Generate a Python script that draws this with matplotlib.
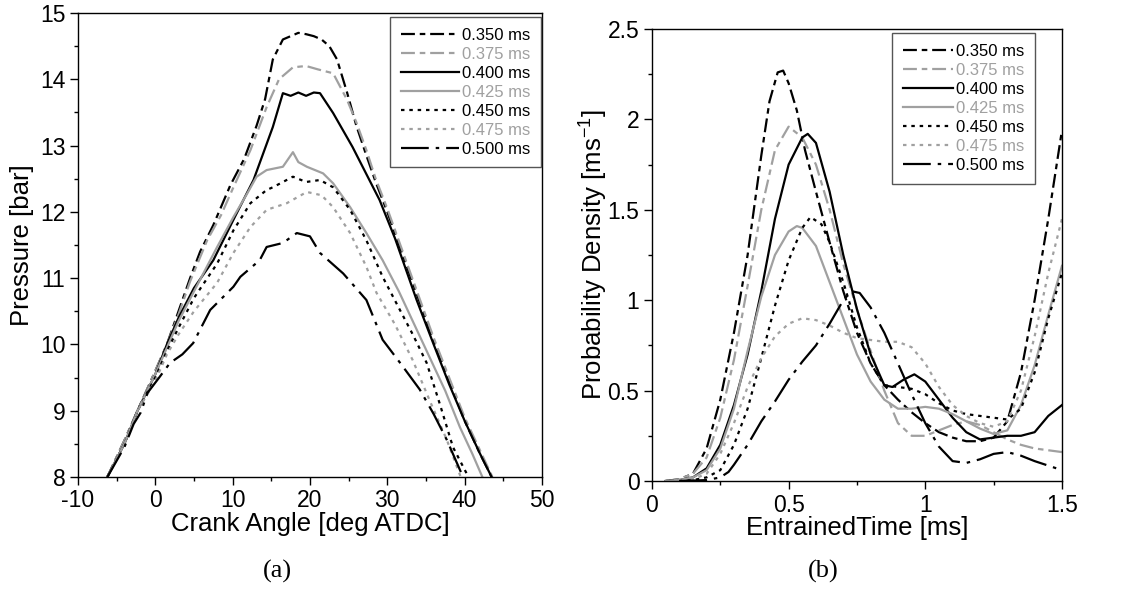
import matplotlib
matplotlib.use("Agg")
import matplotlib.pyplot as plt
from matplotlib.ticker import MultipleLocator

plt.rcParams['font.family'] = ['Liberation Sans', 'DejaVu Sans']
plt.rcParams['mathtext.default'] = 'regular'
plt.rcParams['lines.scale_dashes'] = False
plt.rcParams['axes.unicode_minus'] = False

labels = ['0.350 ms', '0.375 ms', '0.400 ms', '0.425 ms', '0.450 ms', '0.475 ms', '0.500 ms']
colors = ['black', '#a0a0a0', 'black', '#a0a0a0', 'black', '#a0a0a0', 'black']
styles = [(0, (10, 3.5, 4, 3.5)), (0, (10, 3.5, 4, 3.5)), '-', '-',
          (0, (2.5, 3.5)), (0, (2.5, 3.5)), (0, (20, 5, 2.5, 5))]

# (a) pressure vs crank angle
ca_350 = [-6.2, -4, -2.3, 0, 1.5, 3, 4.5, 5.8, 7.5, 9.7, 11.5, 13.1, 14.2, 15.2, 16.5, 17.5,
          18.5, 19.5, 20.5, 21.5, 22.5, 23.5, 24.8, 26, 27.3, 28.5, 30, 32, 34, 36, 38, 40, 42, 43.5]
p_350 = [8.0, 8.55, 9.0, 9.6, 10.0, 10.5, 11.0, 11.4, 11.8, 12.4, 12.8, 13.3, 13.7, 14.3, 14.6, 14.65,
         14.7, 14.68, 14.65, 14.6, 14.5, 14.3, 13.8, 13.3, 12.85, 12.45, 12.0, 11.35, 10.7, 10.05, 9.45, 8.85, 8.35, 8.0]
ca_375 = [-6.2, -4, -2.3, 0, 1.5, 3, 4.5, 6.7, 8.5, 10.1, 12.3, 14.4, 16, 17.8, 19.5, 21, 23,
          24.8, 26, 27.3, 28.5, 30, 32, 34, 36, 38, 40, 42, 43.6]
p_375 = [8.0, 8.55, 9.0, 9.6, 10.0, 10.45, 10.95, 11.57, 11.95, 12.37, 12.93, 13.58, 14.0, 14.18, 14.2, 14.15, 14.09,
         13.69, 13.35, 12.93, 12.5, 12.05, 11.4, 10.75, 10.1, 9.5, 8.9, 8.4, 8.0]
ca_400 = [-6.2, -4, -2.3, 0, 1.5, 3, 5, 7.5, 10.1, 12.7, 15.2, 16.5, 17.5, 18.5, 19.5, 20.5, 21.3,
          23, 25.5, 29, 31, 33.8, 36, 38, 40, 42, 43.5]
p_400 = [8.0, 8.5, 9.0, 9.55, 10.0, 10.4, 10.85, 11.27, 11.88, 12.48, 13.28, 13.79, 13.75, 13.8, 13.75, 13.8, 13.79,
         13.49, 12.98, 12.18, 11.6, 10.67, 10.0, 9.4, 8.85, 8.35, 8.0]
ca_425 = [-6.2, -4, -2.3, 0, 1.5, 3, 5, 8, 10.1, 11.9, 13.1, 14.4, 16.5, 17.8, 18.5, 19.6, 21.7,
          23, 25.2, 27.3, 29.4, 31.5, 33.5, 35.5, 37.5, 39.4, 41, 42.3]
p_425 = [8.0, 8.5, 9.0, 9.55, 9.95, 10.35, 10.8, 11.47, 11.92, 12.28, 12.53, 12.63, 12.68, 12.9, 12.75, 12.68, 12.58,
         12.43, 12.07, 11.68, 11.27, 10.8, 10.3, 9.8, 9.3, 8.75, 8.35, 8.0]
ca_450 = [-6.2, -4, -2.3, 0, 1.5, 3, 5, 8, 10.1, 12.3, 14.4, 15.2, 16.5, 17.8, 19.5, 21.3, 23,
          25.2, 27.3, 29.4, 31.5, 33.3, 35.1, 36.8, 38.5, 40.5]
p_450 = [8.0, 8.5, 9.0, 9.5, 9.9, 10.25, 10.7, 11.22, 11.72, 12.13, 12.33, 12.37, 12.45, 12.53, 12.45, 12.48, 12.37,
         12.03, 11.57, 11.02, 10.55, 10.15, 9.72, 9.1, 8.45, 8.0]
ca_475 = [-6.2, -4, -2.3, 0, 1.5, 3, 5, 8, 10.1, 12.3, 14.4, 17, 19.6, 21.5, 23, 25.2, 27.3,
          28.6, 31, 33.3, 35.5, 37.7, 39.5]
p_475 = [8.0, 8.5, 9.0, 9.45, 9.85, 10.15, 10.5, 10.93, 11.38, 11.77, 12.03, 12.13, 12.3, 12.25, 12.07, 11.68, 11.17,
         10.78, 10.3, 9.76, 9.15, 8.56, 8.0]
ca_500 = [-6.2, -4, -2.8, -1.9, -1.0, 0.5, 1.9, 3.5, 4.9, 7.1, 10.1, 11, 13.5, 14.4, 16.5, 18.3,
          20, 21.3, 24.3, 27.3, 29.4, 31.8, 34.2, 36, 37.7, 39.8]
p_500 = [8.0, 8.45, 8.8, 8.97, 9.27, 9.5, 9.72, 9.85, 10.02, 10.52, 10.87, 11.02, 11.27, 11.47, 11.53, 11.68,
         11.63, 11.38, 11.07, 10.67, 10.07, 9.7, 9.32, 8.95, 8.56, 8.0]

# (b) probability density vs entrained time
t_350 = [0.05, 0.1, 0.15, 0.2, 0.25, 0.3, 0.35, 0.4, 0.43, 0.46, 0.48, 0.5, 0.53, 0.56, 0.6, 0.65, 0.7,
         0.75, 0.8, 0.85, 0.9, 0.95, 1.0, 1.05, 1.1, 1.15, 1.2, 1.25, 1.3, 1.35, 1.4, 1.45, 1.5]
d_350 = [0.0, 0.01, 0.04, 0.18, 0.45, 0.82, 1.25, 1.8, 2.1, 2.26, 2.27, 2.2, 2.05, 1.83, 1.6, 1.32, 1.05,
         0.82, 0.65, 0.53, 0.45, 0.38, 0.32, 0.27, 0.24, 0.22, 0.22, 0.24, 0.33, 0.6, 1.0, 1.45, 1.94]
t_375 = [0.05, 0.1, 0.15, 0.2, 0.25, 0.3, 0.35, 0.4, 0.45, 0.5, 0.55, 0.6, 0.65, 0.7, 0.75, 0.8, 0.85,
         0.9, 0.95, 1.0, 1.05, 1.1, 1.15, 1.2, 1.25, 1.3, 1.35, 1.4, 1.45, 1.5]
d_375 = [0.0, 0.01, 0.04, 0.13, 0.35, 0.67, 1.08, 1.5, 1.83, 1.96, 1.9, 1.75, 1.5, 1.2, 0.95, 0.72, 0.5,
         0.32, 0.25, 0.25, 0.28, 0.31, 0.33, 0.31, 0.27, 0.23, 0.2, 0.18, 0.17, 0.16]
t_400 = [0.05, 0.1, 0.15, 0.2, 0.25, 0.3, 0.35, 0.4, 0.45, 0.5, 0.55, 0.57, 0.6, 0.65, 0.7, 0.75, 0.8,
         0.85, 0.88, 0.92, 0.96, 1.0, 1.05, 1.1, 1.15, 1.2, 1.25, 1.3, 1.35, 1.4, 1.45, 1.5]
d_400 = [0.0, 0.005, 0.02, 0.07, 0.2, 0.42, 0.7, 1.05, 1.45, 1.75, 1.9, 1.92, 1.87, 1.6, 1.25, 0.95, 0.7,
         0.53, 0.52, 0.56, 0.59, 0.55, 0.45, 0.35, 0.27, 0.23, 0.24, 0.25, 0.25, 0.27, 0.36, 0.42]
t_425 = [0.05, 0.1, 0.15, 0.2, 0.25, 0.3, 0.35, 0.4, 0.45, 0.5, 0.53, 0.55, 0.6, 0.65, 0.7, 0.75, 0.8,
         0.85, 0.9, 0.95, 1.0, 1.05, 1.1, 1.15, 1.2, 1.25, 1.3, 1.35, 1.4, 1.45, 1.5]
d_425 = [0.0, 0.005, 0.02, 0.06, 0.18, 0.4, 0.72, 1.02, 1.25, 1.38, 1.41, 1.4, 1.3, 1.1, 0.9, 0.7, 0.55,
         0.45, 0.4, 0.4, 0.41, 0.4, 0.37, 0.33, 0.29, 0.26, 0.28, 0.42, 0.64, 0.92, 1.19]
t_450 = [0.1, 0.15, 0.2, 0.25, 0.3, 0.35, 0.4, 0.45, 0.5, 0.55, 0.58, 0.62, 0.65, 0.7, 0.75, 0.8, 0.85,
         0.9, 0.95, 1.0, 1.05, 1.1, 1.15, 1.2, 1.25, 1.3, 1.35, 1.4, 1.45, 1.5]
d_450 = [0.0, 0.005, 0.02, 0.06, 0.2, 0.4, 0.68, 0.97, 1.22, 1.4, 1.46, 1.42, 1.32, 1.1, 0.85, 0.65, 0.53,
         0.52, 0.51, 0.48, 0.43, 0.39, 0.37, 0.36, 0.35, 0.34, 0.4, 0.6, 0.9, 1.15]
t_475 = [0.05, 0.1, 0.15, 0.2, 0.25, 0.3, 0.35, 0.4, 0.45, 0.5, 0.55, 0.6, 0.65, 0.7, 0.75, 0.8, 0.85,
         0.9, 0.95, 1.0, 1.05, 1.1, 1.15, 1.2, 1.25, 1.3, 1.35, 1.4, 1.45, 1.5]
d_475 = [0.0, 0.005, 0.01, 0.04, 0.15, 0.32, 0.52, 0.68, 0.8, 0.87, 0.9, 0.89, 0.86, 0.82, 0.79, 0.78, 0.77,
         0.77, 0.74, 0.65, 0.52, 0.42, 0.36, 0.32, 0.3, 0.33, 0.5, 0.8, 1.15, 1.45]
t_500 = [0.1, 0.2, 0.25, 0.28, 0.3, 0.35, 0.4, 0.45, 0.5, 0.55, 0.6, 0.65, 0.7, 0.73, 0.76, 0.8, 0.85,
         0.9, 0.95, 1.0, 1.05, 1.1, 1.15, 1.2, 1.25, 1.3, 1.35, 1.4, 1.45, 1.5]
d_500 = [0.0, 0.005, 0.02, 0.05, 0.09, 0.2, 0.33, 0.44, 0.56, 0.66, 0.75, 0.87, 1.0, 1.05, 1.04, 0.96, 0.82,
         0.65, 0.48, 0.32, 0.19, 0.11, 0.1, 0.12, 0.15, 0.16, 0.14, 0.11, 0.085, 0.06]

left_x = [ca_350, ca_375, ca_400, ca_425, ca_450, ca_475, ca_500]
left_y = [p_350, p_375, p_400, p_425, p_450, p_475, p_500]
right_x = [t_350, t_375, t_400, t_425, t_450, t_475, t_500]
right_y = [d_350, d_375, d_400, d_425, d_450, d_475, d_500]

fig = plt.figure(figsize=(11.37, 5.92), dpi=100)
ax1 = fig.add_axes([0.0686, 0.1943, 0.408, 0.7838])
ax2 = fig.add_axes([0.5734, 0.1875, 0.3606, 0.7635])

for x, y, c, s, lab in zip(left_x, left_y, colors, styles, labels):
    ax1.plot(x, y, color=c, linestyle=s, lw=1.6, label=lab)
for x, y, c, s, lab in zip(right_x, right_y, colors, styles, labels):
    ax2.plot(x, y, color=c, linestyle=s, lw=1.6, label=lab)

ax1.set_xlim(-10, 50)
ax1.set_ylim(8, 15)
ax1.xaxis.set_major_locator(MultipleLocator(10))
ax1.xaxis.set_minor_locator(MultipleLocator(5))
ax1.yaxis.set_major_locator(MultipleLocator(1))
ax1.yaxis.set_minor_locator(MultipleLocator(0.5))
ax1.set_xlabel('Crank Angle [deg ATDC]', fontsize=18.5, labelpad=0)
ax1.set_ylabel('Pressure [bar]', fontsize=18.5, labelpad=4)

ax2.set_xlim(0, 1.5)
ax2.set_ylim(0, 2.5)
ax2.set_xticks([0, 0.5, 1, 1.5])
ax2.set_xticklabels(['0', '0.5', '1', '1.5'])
ax2.set_yticks([0, 0.5, 1, 1.5, 2, 2.5])
ax2.set_yticklabels(['0', '0.5', '1', '1.5', '2', '2.5'])
ax2.xaxis.set_minor_locator(MultipleLocator(0.25))
ax2.yaxis.set_minor_locator(MultipleLocator(0.25))
ax2.set_xlabel('EntrainedTime [ms]', fontsize=18.5, labelpad=0)
ax2.set_ylabel('Probability Density [ms$^{-1}$]', fontsize=18.5, labelpad=-2)

for ax in (ax1, ax2):
    ax.tick_params(which='major', direction='out', length=6, width=1, labelsize=16.5,
                   top=False, right=False, pad=3)
    ax.tick_params(which='minor', direction='out', length=3, width=1, top=False, right=False)
    for sp in ax.spines.values():
        sp.set_linewidth(1)

leg1 = ax1.legend(loc='upper right', bbox_to_anchor=(0.998, 0.992), borderaxespad=0,
                  fontsize=12, handlelength=3.5, handletextpad=0.15, labelspacing=0.24,
                  borderpad=0.65, fancybox=False, edgecolor='#555555', framealpha=1)
leg2 = ax2.legend(loc='upper right', bbox_to_anchor=(0.934, 0.991), borderaxespad=0,
                  fontsize=12, handlelength=3.0, handletextpad=0.15, labelspacing=0.24,
                  borderpad=0.65, fancybox=False, edgecolor='#555555', framealpha=1)
for leg in (leg1, leg2):
    leg.get_frame().set_linewidth(1)
    for txt, c in zip(leg.get_texts(), colors):
        txt.set_color(c)

fig.text(0.2436, 0.035, '(a)', fontsize=19, family='Liberation Serif', ha='center', va='center')
fig.text(0.7238, 0.035, '(b)', fontsize=19, family='Liberation Serif', ha='center', va='center')

fig.savefig('out.png', dpi=100)
